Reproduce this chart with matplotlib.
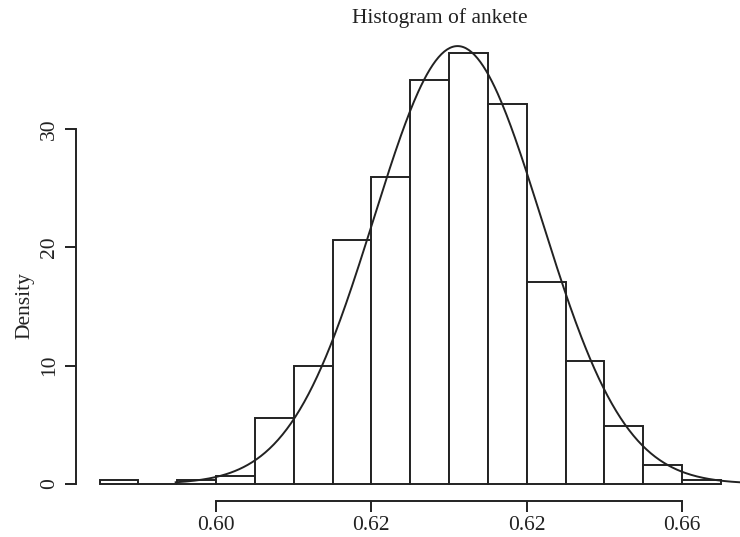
import numpy as np
import matplotlib
matplotlib.use("Agg")
import matplotlib.pyplot as plt

# ---- data ----
bin_edges = [0.585, 0.590, 0.595, 0.600, 0.605, 0.610, 0.615, 0.620, 0.625,
             0.630, 0.635, 0.640, 0.645, 0.650, 0.655, 0.660, 0.665]
densities = [0.35, 0.0, 0.35, 0.7, 5.6, 9.95, 20.6, 25.9, 34.1,
             36.4, 32.1, 17.1, 10.4, 4.85, 1.6, 0.35]
x_ticks = [0.60, 0.62, 0.64, 0.66]
x_tick_labels = ["0.60", "0.62", "0.62", "0.66"]
y_ticks = [0, 10, 20, 30]
y_tick_labels = ["0", "10", "20", "30"]
norm_mean = 0.6311
norm_sd = 0.01078
curve_from, curve_to = 0.5948, 0.6690

plt.rcParams['font.family'] = ['Liberation Serif', 'DejaVu Serif']

W, H = 740, 537
fig = plt.figure(figsize=(W / 100, H / 100), dpi=100)

# plot region in pixels
left_px, right_px = 76, 745.7
top_px, bottom_px = 36, 501
ax = fig.add_axes([left_px / W, 1 - bottom_px / H,
                   (right_px - left_px) / W, (bottom_px - top_px) / H])
ax.set_xlim(0.58197, 0.66820)
ax.set_ylim(-1.456, 37.86)

lw = 1.4
widths = np.diff(bin_edges)
ax.bar(bin_edges[:-1], densities, width=widths, align='edge',
       facecolor='white', edgecolor='#222222', linewidth=lw, clip_on=False)

xs = np.linspace(curve_from, curve_to, 400)
ys = np.exp(-0.5 * ((xs - norm_mean) / norm_sd) ** 2) / (norm_sd * np.sqrt(2 * np.pi))
ax.plot(xs, ys, color='#222222', linewidth=lw, clip_on=True)

for s in ['top', 'right']:
    ax.spines[s].set_visible(False)
ax.spines['left'].set_bounds(0, 30)
ax.spines['bottom'].set_bounds(0.60, 0.66)
for s in ['left', 'bottom']:
    ax.spines[s].set_linewidth(lw)
    ax.spines[s].set_color('#222222')

ax.set_xticks(x_ticks)
ax.set_xticklabels(x_tick_labels)
ax.set_yticks(y_ticks)
ax.set_yticklabels(y_tick_labels, rotation=90, va='center')
ax.tick_params(axis='both', length=8, width=lw, color='#222222',
               labelsize=15.5, labelcolor='#222222')
ax.tick_params(axis='x', pad=3)
ax.tick_params(axis='y', pad=4)

fig.text(440 / W, 1 - 18 / H, "Histogram of ankete", ha='center', va='center',
         fontsize=15.5, color='#222222')
fig.text(25 / W, 1 - 306 / H, "Density", ha='center', va='center',
         rotation=90, fontsize=15.5, color='#222222')

fig.savefig("out.png", dpi=100)
